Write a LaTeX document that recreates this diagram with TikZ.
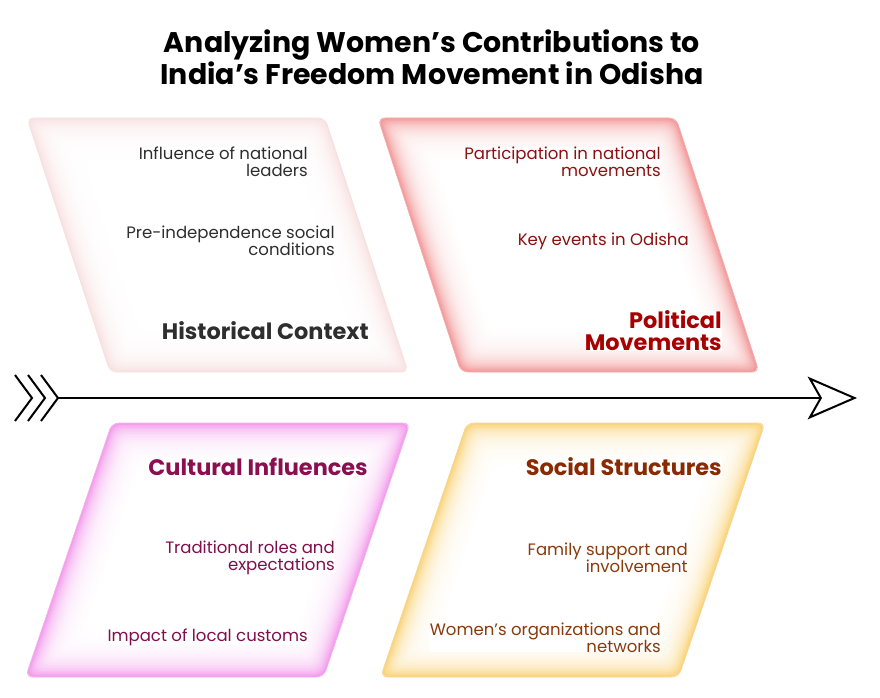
\documentclass[tikz,border=0pt]{standalone}
\usepackage{fontspec}
\setmainfont{Poppins}
\definecolor{histedge}{HTML}{F9E2E2}
\definecolor{histline}{HTML}{F6E0E0}
\definecolor{histtext}{HTML}{2E2E2E}
\definecolor{poledge}{HTML}{F39A9A}
\definecolor{polline}{HTML}{F2AEAE}
\definecolor{poltext}{HTML}{8B1010}
\definecolor{polhead}{HTML}{A80000}
\definecolor{cultedge}{HTML}{F39CEC}
\definecolor{cultline}{HTML}{F1B2EC}
\definecolor{culttext}{HTML}{7E0E4C}
\definecolor{culthead}{HTML}{8A0E50}
\definecolor{socedge}{HTML}{FAD47C}
\definecolor{socline}{HTML}{F6D696}
\definecolor{soctext}{HTML}{8B3A0A}
\definecolor{sochead}{HTML}{8B2A00}
\usetikzlibrary{arrows.meta,positioning}

\begin{document}
\begin{tikzpicture}[
    x=0.75pt, y=-0.75pt,
    every node/.style={font=\fontsize{12.4}{12.75}\selectfont, inner sep=0pt},
    item/.style={align=right, anchor=east, fill=white},
    heading/.style={align=right, anchor=east, fill=white, font=\fontsize{16.8}{16.5}\selectfont\bfseries},
    title/.style={align=center, font=\fontsize{21.3}{21}\selectfont\bfseries},
    spine/.style={line width=1.5pt, -{Stealth[open, length=37pt, width=32pt, inset=9pt]}},
    feather/.style={line width=1.5pt}
    ]
    \useasboundingbox (0,0) rectangle (880,698);
    \node[title] (title) at (432,57) {Analyzing Women's Contributions to\\ India's Freedom Movement in Odisha};

    % panels, drawn as slanted rectangles with a soft inner glow
    \foreach \px/\py/\sl/\edge/\rim in {27/118/-0.327/histedge/histline, 378/118/-0.327/poledge/polline,
                                        112/423/0.34/cultedge/cultline, 467/423/0.34/socedge/socline} {
        \begin{scope}[shift={(\px,\py)}, xslant=\sl]
            \foreach \d [evaluate=\d as \p using {int(100*exp(-\d/11))}] in {0,1.5,...,40.5}
                \fill[\edge!\p!white, rounded corners=6pt] (\d,\d) rectangle (298-\d,254-\d);
            \fill[white, rounded corners=8pt] (42,42) rectangle (256,212);
            \draw[\rim, line width=0.6pt, rounded corners=5pt] (0,0) rectangle (298,254);
        \end{scope}
    }

    % spine
    \coordinate (tail) at (58,398);
    \coordinate (head) at (857,398);
    \draw[spine] (tail) -- (head);
    \foreach \x in {32,45,58}
        \draw[feather] (\x-17,375) -- (\x,398) -- (\x-17,421);

    % historical context
    \node[item, text=histtext] (leaders) at (308,161.5) {Influence of national\\ leaders};
    \node[item, text=histtext] (conditions) at (335,240.5) {Pre-independence social\\ conditions};
    \node[heading, text=histtext] (history) at (369,331) {Historical Context};

    % political movements
    \node[item, text=poltext] (national) at (661,161.5) {Participation in national\\ movements};
    \node[item, text=poltext] (events) at (689,241) {Key events in Odisha};
    \node[heading, text=polhead] (politics) at (722,331) {Political\\ Movements};

    % cultural influences
    \node[heading, text=culthead] (culture) at (368,467) {Cultural Influences};
    \node[item, text=culttext] (roles) at (335,557.5) {Traditional roles and\\ expectations};
    \node[item, text=culttext] (customs) at (308,637) {Impact of local customs};

    % social structures
    \node[heading, text=sochead] (society) at (722,467) {Social Structures};
    \node[item, text=soctext] (family) at (688,557.5) {Family support and\\ involvement};
    \node[item, text=soctext] (networks) at (661,637.5) {Women's organizations and\\ networks};
\end{tikzpicture}
\end{document}
